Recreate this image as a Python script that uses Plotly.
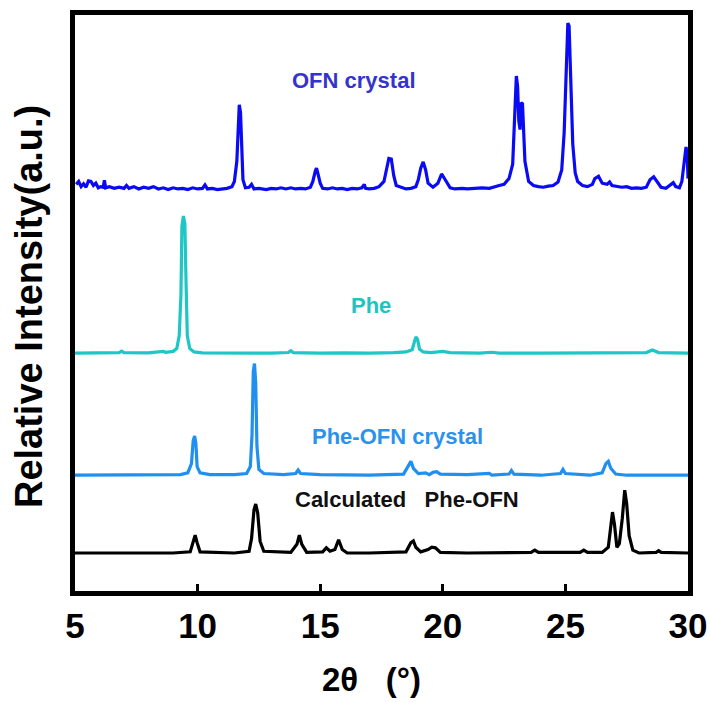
import numpy as np
import plotly.graph_objects as go

# ---------------- data ----------------
# 2theta (deg) and relative intensity above each pattern's own baseline
ofn_x = [5.05, 5.15, 5.25, 5.35, 5.45, 5.55, 5.65, 5.75, 5.85, 5.95, 6.05, 6.15, 6.2, 6.25, 6.4, 6.6, 6.8, 7.0,
         7.1, 7.2, 7.4, 7.6, 7.8, 8.0, 8.2, 8.4, 8.6, 8.8, 9.0, 9.2, 9.4, 9.6, 9.8, 10.0, 10.2, 10.3, 10.4, 10.6,
         10.8, 11.0, 11.2, 11.4, 11.5, 11.6, 11.65, 11.7, 11.75, 11.8, 11.85, 11.95, 12.1, 12.2, 12.3, 12.5, 12.8,
         13.0, 13.2, 13.4, 13.6, 13.8, 14.0, 14.2, 14.4, 14.6, 14.7, 14.8, 14.85, 14.9, 15.0, 15.1, 15.3, 15.5,
         15.7, 15.9, 16.1, 16.3, 16.5, 16.7, 16.8, 16.85, 17.0, 17.2, 17.4, 17.6, 17.7, 17.8, 17.9, 18.0, 18.1,
         18.3, 18.5, 18.7, 18.9, 19.0, 19.1, 19.2, 19.3, 19.4, 19.6, 19.8, 19.95, 20.1, 20.3, 20.5, 20.8, 21.0,
         21.3, 21.6, 21.9, 22.1, 22.3, 22.5, 22.7, 22.85, 22.95, 23.0, 23.05, 23.1, 23.15, 23.2, 23.25, 23.3,
         23.35, 23.5, 23.7, 23.9, 24.1, 24.3, 24.5, 24.7, 24.85, 24.95, 25.05, 25.1, 25.15, 25.2, 25.3, 25.4,
         25.5, 25.7, 25.9, 26.1, 26.2, 26.35, 26.5, 26.7, 26.8, 26.9, 27.1, 27.3, 27.5, 27.7, 27.9, 28.1, 28.3,
         28.45, 28.6, 28.75, 28.9, 29.1, 29.3, 29.4, 29.5, 29.65, 29.75, 29.85, 29.92, 29.97, 30.0]
ofn_y = [1.0, 1.5, 0.6, 1.1, 0.5, 1.6, 1.5, 0.8, 1.2, 0.4, 0.6, 0.5, 1.7, 0.4, 0.6, 0.3, 0.5, 0.3,
         0.8, 0.3, 0.6, 0.2, 0.5, 0.3, 0.6, 0.2, 0.4, 0.1, 0.4, 0.2, 0.3, 0.1, 0.4, 0.2, 0.3, 0.9, 0.2, 0.3,
         0.1, 0.2, 0.3, 0.6, 1.5, 5.0, 9.5, 14.8, 13.5, 5.5, 1.8, 0.4, 0.5, 1.0, 0.2, 0.3, 0.1,
         0.3, 0.2, 0.4, 0.2, 0.4, 0.2, 0.3, 0.2, 0.5, 1.5, 3.3, 3.8, 3.0, 1.2, 0.3, 0.2, 0.4,
         0.2, 0.3, 0.1, 0.3, 0.2, 0.4, 1.0, 0.3, 0.2, 0.3, 0.6, 1.5, 3.5, 5.5, 5.4, 2.5, 0.8,
         0.5, 0.2, 0.3, 0.6, 1.8, 3.8, 4.9, 3.5, 1.2, 0.5, 1.2, 2.8, 1.8, 0.4, 0.2, 0.3, 0.2,
         0.3, 0.4, 0.3, 0.6, 0.8, 1.0, 2.0, 4.5, 15.0, 19.8, 18.0, 12.0, 10.5, 15.2, 15.0, 8.0,
         5.0, 1.5, 0.8, 0.6, 0.5, 0.7, 0.8, 1.4, 3.5, 10.0, 24.0, 29.0, 28.5, 20.0, 8.0, 3.0,
         1.5, 0.8, 0.6, 1.0, 2.0, 2.4, 1.2, 1.0, 1.4, 0.8, 0.7, 0.5, 0.6, 0.3, 0.4, 0.3, 0.5,
         1.8, 2.3, 1.5, 0.5, 0.3, 1.0, 1.3, 0.6, 0.4, 1.5, 5.5, 7.5, 6.0, 2.0]

phe_x = [5.0, 6.0, 6.8, 6.9, 7.0, 8.0, 8.5, 8.6, 8.7, 9.0, 9.15, 9.25, 9.32, 9.36, 9.42, 9.48, 9.53, 9.58,
         9.68, 9.85, 10.2, 11.5, 13.0, 13.7, 13.8, 13.9, 15.0, 16.0, 17.0, 18.0, 18.5, 18.75, 18.85, 18.9,
         18.97, 19.05, 19.2, 19.5, 19.8, 20.0, 20.3, 21.0, 21.5, 22.0, 22.3, 24.0, 26.0, 28.3, 28.55, 28.8, 30.0]
phe_y = [0.0, 0.05, 0.1, 0.35, 0.1, 0.05, 0.15, 0.3, 0.15, 0.3, 0.8, 3.0, 10.0, 22.0, 23.8, 22.5, 12.0, 3.0,
         0.8, 0.2, 0.05, 0.0, 0.0, 0.1, 0.4, 0.1, 0.0, 0.05, 0.0, 0.1, 0.2, 0.6, 2.3, 2.8,
         2.4, 0.7, 0.2, 0.1, 0.2, 0.3, 0.1, 0.0, 0.0, 0.15, 0.0, 0.0, 0.0, 0.1, 0.55, 0.1, 0.0]

cry_x = [5.0, 8.0, 9.3, 9.6, 9.75, 9.82, 9.88, 9.93, 9.98, 10.1, 10.5, 11.5, 12.0, 12.15, 12.22, 12.27, 12.32,
         12.37, 12.42, 12.5, 12.7, 13.5, 14.0, 14.1, 14.2, 15.0, 16.0, 17.0, 18.4, 18.6, 18.7, 18.8, 19.0,
         19.3, 19.45, 19.6, 19.75, 19.9, 21.0, 21.9, 22.0, 22.7, 22.8, 22.9, 23.6, 24.0, 24.8, 24.9, 25.0,
         26.0, 26.5, 26.65, 26.75, 26.85, 27.05, 27.5, 30.0]
cry_y = [0.0, 0.05, 0.1, 0.4, 2.0, 6.0, 6.8, 5.5, 1.5, 0.4, 0.1, 0.1, 0.3, 1.5, 7.0, 18.0, 19.4,
         16.0, 5.0, 1.0, 0.3, 0.1, 0.3, 0.9, 0.3, 0.1, 0.0, 0.0, 0.2, 1.5, 2.4, 1.2, 0.3,
         0.4, 0.1, 0.5, 0.6, 0.2, 0.1, 0.3, 0.0, 0.2, 0.8, 0.2, 0.1, 0.0, 0.3, 1.0, 0.3,
         0.0, 0.4, 2.0, 2.4, 1.2, 0.2, 0.0, 0.0]

calc_x = [5.0, 9.0, 9.7, 9.82, 9.9, 9.98, 10.1, 11.5, 12.1, 12.2, 12.3, 12.37, 12.45, 12.55, 12.7, 13.8, 14.05,
          14.15, 14.25, 14.45, 15.1, 15.25, 15.4, 15.6, 15.75, 15.9, 16.1, 17.0, 18.5, 18.7, 18.8, 18.9, 19.1,
          19.4, 19.55, 19.7, 19.9, 21.0, 23.6, 23.75, 23.9, 25.6, 25.75, 25.9, 26.5, 26.75, 26.85, 26.92, 27.0,
          27.1, 27.2, 27.32, 27.42, 27.5, 27.6, 27.75, 28.0, 28.7, 28.8, 28.9, 30.0]
calc_y = [0.0, 0.0, 0.2, 1.8, 3.1, 1.8, 0.2, 0.0, 0.3, 2.5, 7.5, 8.5, 7.0, 2.0, 0.3, 0.1, 1.5,
          3.1, 1.5, 0.1, 0.2, 0.9, 0.3, 0.6, 2.3, 0.6, 0.0, 0.0, 0.2, 1.8, 2.1, 1.0, 0.2,
          0.6, 1.0, 0.9, 0.1, 0.0, 0.1, 0.5, 0.1, 0.1, 0.5, 0.1, 0.1, 1.0, 5.0, 7.1, 5.0,
          1.0, 1.6, 6.0, 10.9, 8.5, 3.0, 0.5, 0.0, 0.1, 0.4, 0.1, 0.0]

# vertical stacking offsets of the patterns
series_names = ["Calculated   Phe-OFN", "Phe-OFN crystal", "Phe", "OFN crystal"]
series_offsets = [6.6, 20.1, 41.3, 69.6]
x_tick_vals = [5, 10, 15, 20, 25, 30]

# ---------------- figure ----------------
curves = [(calc_x, calc_y), (cry_x, cry_y), (phe_x, phe_y), (ofn_x, ofn_y)]
line_colors = ["#000000", "#2090F0", "#1EC6C6", "#0A0AF5"]
label_colors = ["#111111", "#2A92EC", "#22C2C2", "#3434CC"]
label_pos = [(18.54, 15.8), (18.17, 26.9), (17.07, 49.6), (16.38, 88.7)]

fig = go.Figure()
for (xs, ys), off, col, name in zip(curves, series_offsets, line_colors, series_names):
    fig.add_trace(go.Scatter(x=xs, y=np.array(ys) + off, mode="lines", name=name,
                             line=dict(color=col, width=3.2), showlegend=False, cliponaxis=True))

for name, col, (lx, ly) in zip(series_names, label_colors, label_pos):
    fig.add_annotation(x=lx, y=ly, xref="x", yref="y", text="<b>" + name.replace(" ", "\u00a0") + "</b>",
                       showarrow=False, font=dict(size=22, color=col, family="Liberation Sans, Arial"),
                       xanchor="center", yanchor="middle")

fig.add_annotation(x=-0.075, y=0.493, xref="paper", yref="paper", text="<b>Relative Intensity(a.u.)</b>",
                   textangle=-90, showarrow=False, xanchor="center", yanchor="middle",
                   font=dict(size=38, color="#000000", family="Liberation Sans, Arial"))
fig.add_annotation(x=0.483, y=-0.1545, xref="paper", yref="paper", text="<b>2θ\u00a0\u00a0\u00a0(°)</b>",
                   showarrow=False, xanchor="center", yanchor="middle",
                   font=dict(size=33, color="#000000", family="Liberation Sans, Arial"))

fig.update_layout(
    template="none",
    width=710, height=702, autosize=False,
    margin=dict(l=75, r=22, t=15, b=111, autoexpand=False),
    paper_bgcolor="white", plot_bgcolor="white",
    font=dict(family="Liberation Sans, Arial", color="#000000"),
)
fig.update_xaxes(range=[5, 30], tickvals=x_tick_vals, ticktext=["<b>%d</b>" % v for v in x_tick_vals],
                 ticks="inside", ticklen=7, tickwidth=3, tickcolor="#000000", automargin=False,
                 showline=True, linewidth=4.5, linecolor="#000000", mirror=True,
                 showgrid=False, zeroline=False, tickfont=dict(size=35, color="#000000"))
fig.update_yaxes(range=[0, 100], showticklabels=False, ticks="", automargin=False,
                 showline=True, linewidth=4.5, linecolor="#000000", mirror=True,
                 showgrid=False, zeroline=False)

fig.write_html("out.html")
